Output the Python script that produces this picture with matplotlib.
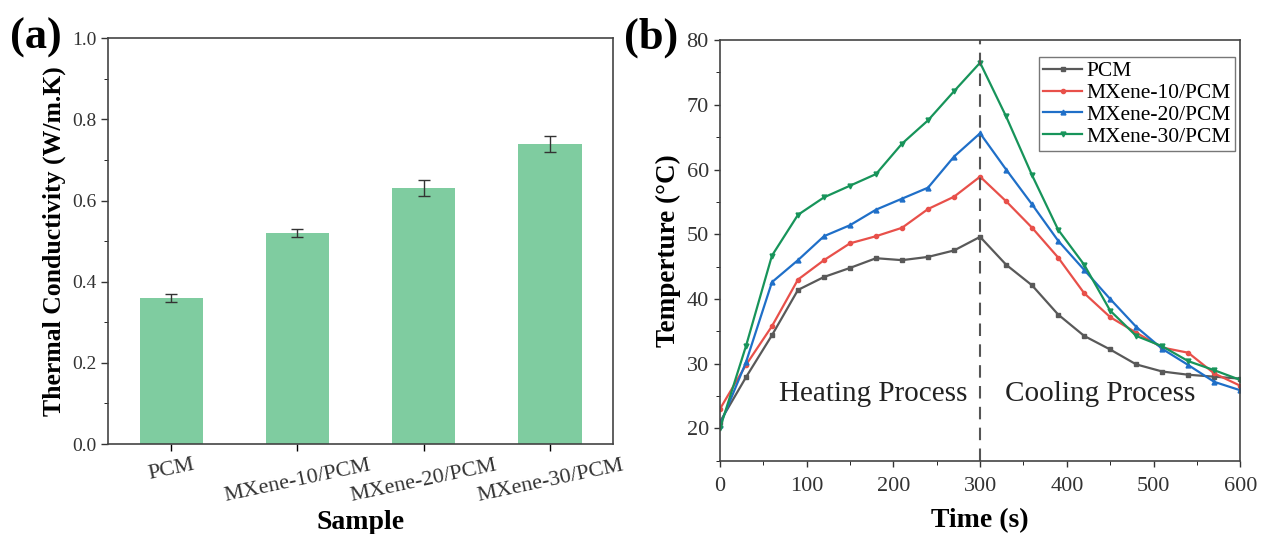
import numpy as np
import matplotlib.pyplot as plt
from matplotlib.ticker import MultipleLocator

plt.rcParams['font.family'] = ['Liberation Serif', 'DejaVu Serif']
plt.rcParams['mathtext.fontset'] = 'stix'

# panel (a) data
samples = ['PCM', 'MXene-10/PCM', 'MXene-20/PCM', 'MXene-30/PCM']
conductivity = [0.36, 0.52, 0.63, 0.74]
cond_err = [0.01, 0.01, 0.02, 0.02]

# panel (b) data
time_s = [0, 30, 60, 90, 120, 150, 180, 210, 240, 270, 300,
          330, 360, 390, 420, 450, 480, 510, 540, 570, 600]
temp_pcm = [21.0, 27.9, 34.4, 41.4, 43.4, 44.8, 46.3, 46.0, 46.5, 47.5, 49.6,
            45.3, 42.1, 37.6, 34.3, 32.2, 29.9, 28.8, 28.3, 28.0, 27.7]
temp_mx10 = [23.0, 29.8, 35.8, 43.0, 46.0, 48.6, 49.7, 51.0, 53.9, 55.8, 58.9,
             55.1, 51.0, 46.4, 40.9, 37.2, 34.8, 32.5, 31.7, 28.5, 26.6]
temp_mx20 = [20.5, 30.2, 42.6, 46.0, 49.7, 51.4, 53.8, 55.5, 57.2, 62.0, 65.6,
             60.0, 54.6, 49.0, 44.5, 40.0, 35.7, 32.3, 29.8, 27.2, 25.9]
temp_mx30 = [20.0, 32.7, 46.7, 53.0, 55.7, 57.5, 59.3, 64.0, 67.6, 72.1, 76.5,
             68.2, 59.1, 50.7, 45.3, 38.2, 34.3, 32.7, 30.4, 29.0, 27.5]

fig = plt.figure(figsize=(12.63, 5.34), dpi=100)

# ---- (a) bar chart
ax1 = fig.add_axes([0.0855, 0.1685, 0.400, 0.760])
x = np.arange(len(samples))
ax1.bar(x, conductivity, width=0.5, color='#7fcca0', yerr=cond_err,
        error_kw=dict(ecolor='#333333', elinewidth=1, capsize=4, capthick=1))
ax1.set_xlim(-0.5, 3.5)
ax1.set_ylim(0, 1.0)
ax1.set_xticks(x)
ax1.set_xticklabels(samples, rotation=12, fontsize=16)
ax1.yaxis.set_major_locator(MultipleLocator(0.2))
ax1.yaxis.set_minor_locator(MultipleLocator(0.1))
ax1.tick_params(axis='y', labelsize=14, length=5, width=1, colors='#333333', labelcolor='#333333')
ax1.tick_params(axis='y', which='minor', length=3)
ax1.tick_params(axis='x', length=5, width=1, labelcolor='#333333')
ax1.set_ylabel('Thermal Conductivity (W/m.K)', fontsize=18.5, fontweight='bold')
ax1.set_xlabel('Sample', fontsize=20, fontweight='bold', labelpad=3)
for s in ax1.spines.values():
    s.set_color('#444444')
    s.set_linewidth(1.2)
fig.text(0.008, 0.93, '(a)', fontsize=32, fontweight='bold', va='center')

# ---- (b) temperature curves
ax2 = fig.add_axes([0.570, 0.137, 0.412, 0.788])
ax2.plot(time_s, temp_pcm, color='#595959', marker='s', ms=3, lw=1.6, label='PCM')
ax2.plot(time_s, temp_mx10, color='#e8504a', marker='o', ms=3, lw=1.6, label='MXene-10/PCM')
ax2.plot(time_s, temp_mx20, color='#1f6fc8', marker='^', ms=3.5, lw=1.6, label='MXene-20/PCM')
ax2.plot(time_s, temp_mx30, color='#17945a', marker='v', ms=3.5, lw=1.6, label='MXene-30/PCM')
ax2.axvline(300, color='#555555', ls=(0, (6, 4)), lw=1.5)
ax2.set_xlim(0, 600)
ax2.set_ylim(15, 80)
ax2.xaxis.set_major_locator(MultipleLocator(100))
ax2.xaxis.set_minor_locator(MultipleLocator(50))
ax2.yaxis.set_major_locator(MultipleLocator(10))
ax2.yaxis.set_minor_locator(MultipleLocator(5))
ax2.set_yticks([20, 30, 40, 50, 60, 70, 80])
ax2.tick_params(labelsize=16, length=4.5, width=1, colors='#333333', labelcolor='#333333')
ax2.tick_params(axis='x', pad=7)
ax2.tick_params(which='minor', length=3)
ax2.set_xlabel('Time (s)', fontsize=20, fontweight='bold', labelpad=9)
ax2.set_ylabel('Temperture (°C)', fontsize=19.5, fontweight='bold')
for s in ax2.spines.values():
    s.set_color('#444444')
    s.set_linewidth(1.2)
ax2.text(285, 25.4, 'Heating Process', fontsize=21, ha='right', va='center', color='#222222')
ax2.text(329, 25.4, 'Cooling Process', fontsize=21, ha='left', va='center', color='#222222')
leg = ax2.legend(loc='upper right', bbox_to_anchor=(0.99, 0.96), fontsize=15.5, fancybox=False,
                 edgecolor='#777777', framealpha=1, handlelength=1.8, borderpad=0.2,
                 labelspacing=0.08, handletextpad=0.2, borderaxespad=0)
leg.get_frame().set_linewidth(1)
fig.text(0.494, 0.93, '(b)', fontsize=32, fontweight='bold', va='center')

fig.savefig('out.png', dpi=100)
